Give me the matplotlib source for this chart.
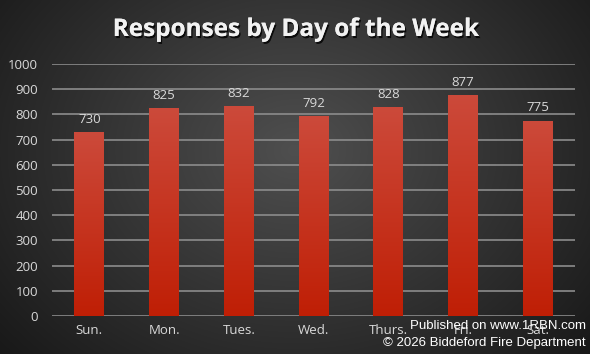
import numpy as np
import matplotlib
matplotlib.use("Agg")
import matplotlib.pyplot as plt
import matplotlib.patheffects as pe

days = ["Sun.", "Mon.", "Tues.", "Wed.", "Thurs.", "Fri.", "Sat."]
responses = [730, 825, 832, 792, 828, 877, 775]
yticks = [0, 100, 200, 300, 400, 500, 600, 700, 800, 900, 1000]

W, H = 5.9, 3.54
fig = plt.figure(figsize=(W, H), dpi=100)

# radial background gradient
bg = fig.add_axes([0, 0, 1, 1], zorder=0)
yy, xx = np.mgrid[0:354, 0:590]
r = np.sqrt(((xx - 295) / 330.0) ** 2 + ((yy - 150) / 260.0) ** 2)
v = np.clip(0.31 - 0.18 * r, 0.09, 0.32)
img = np.dstack([v, v, v])
bg.imshow(img, aspect="auto", extent=[0, 1, 0, 1], origin="upper")
bg.axis("off")

ax = fig.add_axes([52 / 590, 1 - 316 / 354, (575 - 52) / 590, (316 - 64) / 354], zorder=1)
ax.patch.set_alpha(0)
x = np.arange(len(days))
bars = ax.bar(x, responses, width=0.40, color="#c02a14", zorder=3)

# gradient fill on bars
grad = np.linspace(0, 1, 256).reshape(-1, 1)
top = np.array([0.80, 0.29, 0.23])
bot = np.array([0.75, 0.12, 0.02])
gimg = bot[None, None, :] * (1 - grad[..., None]) + top[None, None, :] * grad[..., None]
for b in bars:
    bx, by = b.get_x(), b.get_y()
    bw, bh = b.get_width(), b.get_height()
    im = ax.imshow(gimg, extent=[bx, bx + bw, by, by + bh], origin="lower",
                   aspect="auto", zorder=4)
    im.set_clip_path(b)

for xi, val in zip(x, responses):
    ax.text(xi, val + 25, f"{val}", ha="center", va="bottom", color="#d9d9d9",
            fontsize=9.5, family="Open Sans", zorder=5)

ax.set_xlim(-0.5, len(days) - 0.5)
ax.set_ylim(0, 1000)
ax.set_yticks(yticks)
ax.set_xticks(x)
ax.set_xticklabels(days)
ax.yaxis.grid(True, color="#8c8c8c", linewidth=1.2, zorder=1)
ax.set_axisbelow(True)
for s in ax.spines.values():
    s.set_visible(False)
ax.tick_params(axis="both", length=0, colors="#d9d9d9", labelsize=9.5)
ax.tick_params(axis="y", pad=10)
ax.tick_params(axis="x", pad=6)
for lab in ax.get_xticklabels() + ax.get_yticklabels():
    lab.set_family("Open Sans")

fig.text(0.5, 1 - 30 / 354, "Responses by Day of the Week", ha="center", va="center",
         color="#f2f2f2", fontsize=17.5, fontweight="bold", family="Open Sans",
         path_effects=[pe.withSimplePatchShadow(offset=(1, -1.5), shadow_rgbFace="black", alpha=0.8), pe.Normal()],
         zorder=5)

fig.text(586 / 590, 1 - 326 / 354, "Published on www.1RBN.com", ha="right", va="center",
         color="white", fontsize=9.5, family="Liberation Sans", zorder=6)
fig.text(586 / 590, 1 - 343 / 354, "\u00a9 2026 Biddeford Fire Department", ha="right", va="center",
         color="white", fontsize=9.5, family="Liberation Sans", zorder=6)

fig.savefig("out.png", dpi=100)
